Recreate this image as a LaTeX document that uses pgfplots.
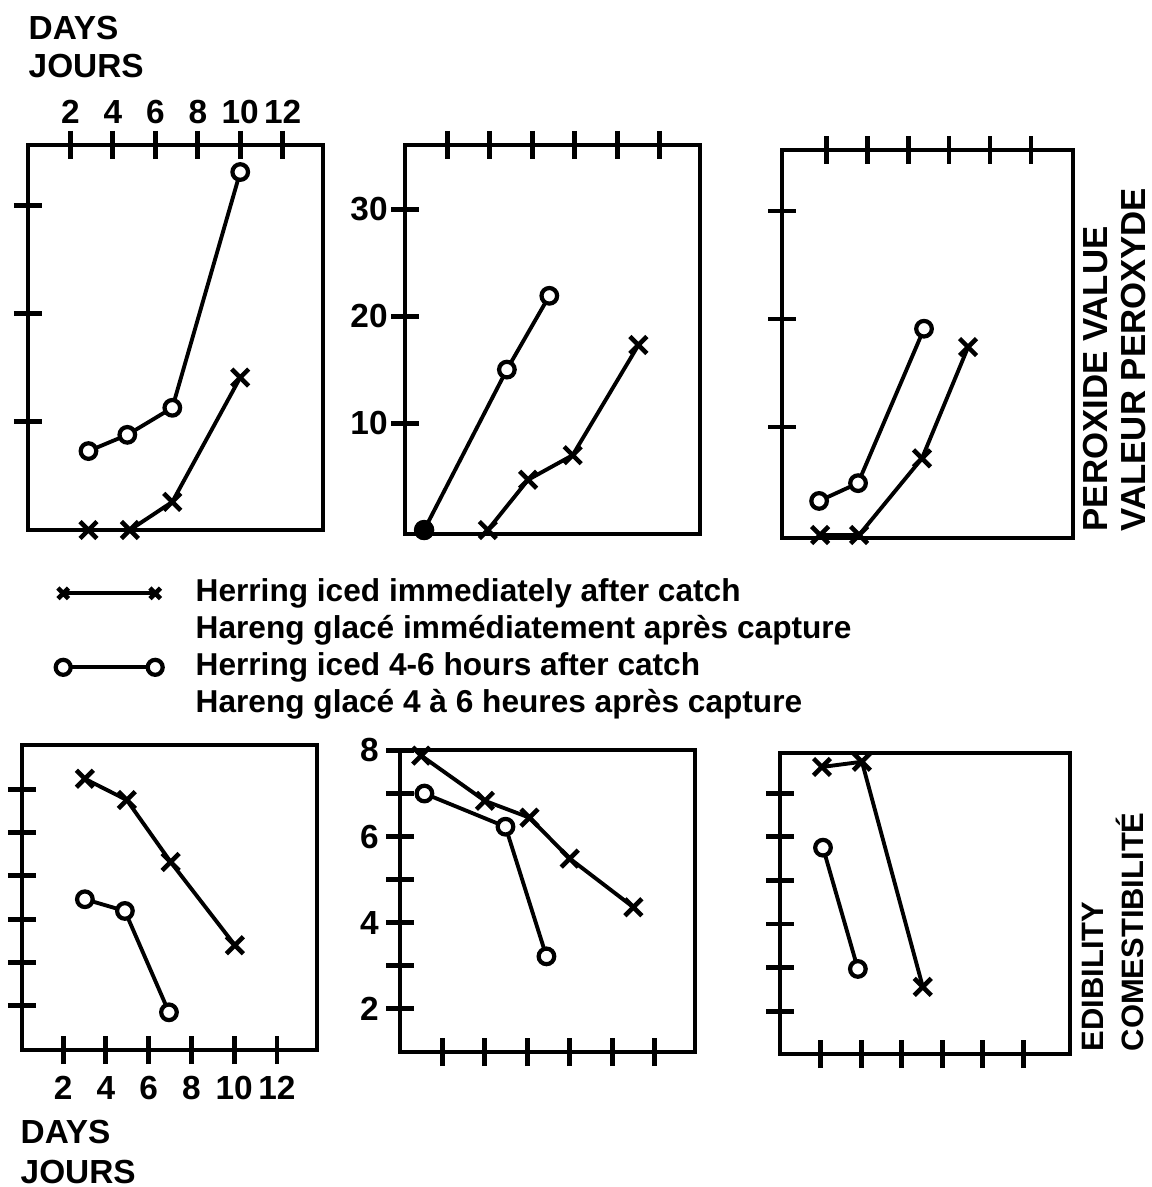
\documentclass[border=0pt]{standalone}
\usepackage{fontspec}
\setmainfont{Liberation Sans}
\usepackage{pgfplots}
\pgfplotsset{compat=1.18}

\pgfplotsset{
  panel/.style={
    scale only axis, anchor=south west, clip=false,
    axis line style={line width=1.4pt, line cap=round},
    every tick/.style={black, line width=1.4pt},
    major tick length=2.8mm, tick align=center,
    ytick pos=left,
    xtick={2,4,...,12},
    /pgf/number format/assume math mode=true,
    ticklabel style={font=\fontsize{9.5}{11}\selectfont\bfseries},
  },
  cross/.style={black, line width=1.1pt, mark=x, mark size=1.2mm, mark options={line width=1.3pt, solid}},
  circ/.style={black, line width=1.1pt, mark=*, mark size=0.78mm, mark options={fill=white, line width=1.2pt}},
}

\begin{document}
\begin{tikzpicture}
\useasboundingbox (0,0) rectangle (115.1mm,-118.7mm);

% ---- peroxide value, top row
\begin{axis}[panel, at={(2.8mm,-53.0mm)}, width=29.5mm, height=38.5mm,
  xmin=0, xmax=13.9, ymin=0, ymax=35.6,
  xtick pos=right, xticklabel pos=right,
  xticklabel style={yshift=-0.5mm},
  ytick={10,20,30}, yticklabels={},
  legend image code/.code={\draw[mark size=0.75mm] plot coordinates {(0mm,0mm) (9.2mm,0mm)};},
  legend cell align=left,
  legend style={at={(axis description cs:0.0915,-0.125)}, anchor=north west,
    draw=none, fill=none, inner sep=0pt,
    font=\fontsize{9}{11}\selectfont\bfseries,
    column sep=3.3mm, row sep=0.8mm,
    nodes={inner sep=0pt, text height=2.3mm, text depth=0.6mm}},
]
\addplot[cross] coordinates {(2.85,0) (4.8,0) (6.8,2.6) (10.0,14.1)};
\addlegendentry{Herring iced immediately after catch}
\addlegendimage{empty legend}
\addlegendentry{Hareng glacé immédiatement après capture}
\addplot[circ] coordinates {(2.85,7.3) (4.68,8.8) (6.8,11.3) (10.0,33.1)};
\addlegendentry{Herring iced 4-6 hours after catch}
\addlegendimage{empty legend}
\addlegendentry{Hareng glacé 4 à 6 heures après capture}
\end{axis}

\begin{axis}[panel, at={(40.5mm,-53.4mm)}, width=29.5mm, height=38.9mm,
  xmin=0, xmax=13.9, ymin=-0.37, ymax=36.0,
  xtick pos=right, xticklabels={},
  yticklabel style={xshift=0.9mm},
  ytick={10,20,30}]
\addplot[cross] coordinates {(3.9,0) (5.8,4.7) (7.9,7.0) (11.0,17.3)};
\addplot[circ] coordinates {(0.9,0) (4.8,15.0) (6.8,21.9)};
\addplot[black, only marks, mark=*, mark size=0.95mm] coordinates {(0.9,0)};
\end{axis}

\begin{axis}[panel, at={(78.2mm,-53.8mm)}, width=29.1mm, height=38.8mm,
  xmin=-0.15, xmax=14.05, ymin=-0.28, ymax=35.65,
  xtick pos=right, xticklabels={},
  ytick={10,20,30}, yticklabels={}]
\addplot[cross] coordinates {(1.71,0) (3.61,0) (6.68,7.1) (8.93,17.4)};
\addplot[circ] coordinates {(1.66,3.15) (3.56,4.8) (6.78,19.1)};
\end{axis}

% ---- edibility, bottom row
\begin{axis}[panel, at={(2.2mm,-105.0mm)}, width=29.5mm, height=30.5mm,
  xmin=0.08, xmax=13.87, ymin=0.98, ymax=8.02,
  xtick pos=left,
  ytick={2,...,7}, yticklabels={}]
\addplot[cross] coordinates {(3.02,7.24) (4.98,6.75) (7.03,5.32) (10.03,3.40)};
\addplot[circ] coordinates {(3.02,4.46) (4.89,4.19) (6.95,1.85)};
\end{axis}

\begin{axis}[panel, at={(40.0mm,-105.2mm)}, width=29.5mm, height=30.2mm,
  xmin=0, xmax=13.9, ymin=1, ymax=8.01,
  xtick pos=left, xticklabels={},
  yticklabel style={xshift=0.5mm},
  ytick={2,...,8}, yticklabels={2,,4,,6,,8}]
\addplot[cross] coordinates {(1.0,7.88) (4.0,6.83) (6.1,6.44) (8.0,5.49) (11.0,4.36)};
\addplot[circ] coordinates {(1.15,7.0) (4.97,6.23) (6.9,3.22)};
\end{axis}

\begin{axis}[panel, at={(78.0mm,-105.4mm)}, width=29.0mm, height=30.1mm,
  xmin=0, xmax=14.3, ymin=1.02, ymax=7.92,
  xtick pos=left, xticklabels={},
  ytick={2,...,7}, yticklabels={}]
\addplot[cross] coordinates {(2.07,7.6) (4.04,7.72) (7.04,2.56)};
\addplot[circ] coordinates {(2.12,5.75) (3.84,2.97)};
\end{axis}

% ---- titles
\begin{scope}[every node/.style={inner sep=0pt, font=\fontsize{9.5}{11}\selectfont\bfseries}]
\node[anchor=base west] at (2.8mm,-4.0mm) {DAYS};
\node[anchor=base west] at (2.8mm,-7.8mm) {JOURS};
\node[anchor=base west] at (2.0mm,-114.3mm) {DAYS};
\node[anchor=base west] at (2.0mm,-118.3mm) {JOURS};
\end{scope}
\begin{scope}[every node/.style={inner sep=0pt, rotate=90, anchor=base west}]
\node[font=\fontsize{9.9}{12}\selectfont\bfseries] at (110.7mm,-53.2mm) {PEROXIDE VALUE};
\node[font=\fontsize{9.9}{12}\selectfont\bfseries] at (114.5mm,-53.2mm) {VALEUR PEROXYDE};
\node[font=\fontsize{8.8}{11}\selectfont\bfseries] at (110.3mm,-105.2mm) {EDIBILITY};
\node[font=\fontsize{8.8}{11}\selectfont\bfseries] at (114.3mm,-105.2mm) {COMESTIBILITÉ};
\end{scope}
\end{tikzpicture}
\end{document}
